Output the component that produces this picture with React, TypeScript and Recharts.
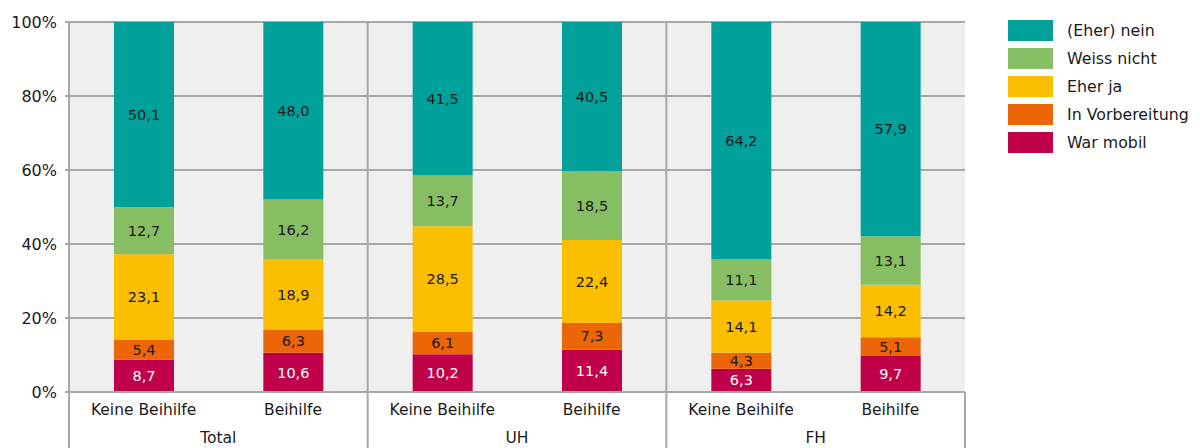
import React from 'react';
import { BarChart, Bar, XAxis, YAxis, CartesianGrid, LabelList, ReferenceLine } from 'recharts';

const groups = ['Total', 'UH', 'FH'];
const categories = ['Keine Beihilfe', 'Beihilfe', 'Keine Beihilfe', 'Beihilfe', 'Keine Beihilfe', 'Beihilfe'];
const categoryIds = ['total-keine', 'total-beihilfe', 'uh-keine', 'uh-beihilfe', 'fh-keine', 'fh-beihilfe'];
const warMobil = [8.7, 10.6, 10.2, 11.4, 6.3, 9.7];
const inVorbereitung = [5.4, 6.3, 6.1, 7.3, 4.3, 5.1];
const eherJa = [23.1, 18.9, 28.5, 22.4, 14.1, 14.2];
const weissNicht = [12.7, 16.2, 13.7, 18.5, 11.1, 13.1];
const eherNein = [50.1, 48.0, 41.5, 40.5, 64.2, 57.9];
const yTicks = [0, 20, 40, 60, 80, 100];

const series = [
  { key: 'warMobil', name: 'War mobil', color: '#C1004A', labelColor: '#ffffff' },
  { key: 'inVorbereitung', name: 'In Vorbereitung', color: '#EC6608', labelColor: '#1a1a1a' },
  { key: 'eherJa', name: 'Eher ja', color: '#FBBE00', labelColor: '#1a1a1a' },
  { key: 'weissNicht', name: 'Weiss nicht', color: '#87BE63', labelColor: '#1a1a1a' },
  { key: 'eherNein', name: '(Eher) nein', color: '#00A19B', labelColor: '#1a1a1a' },
];

const data = categoryIds.map((id, i) => ({
  id,
  warMobil: warMobil[i],
  inVorbereitung: inVorbereitung[i],
  eherJa: eherJa[i],
  weissNicht: weissNicht[i],
  eherNein: eherNein[i],
}));

const FONT = '"DejaVu Sans", "Open Sans", sans-serif';
const TEXT = '#1a1a1a';
const GRID = '#a8a8a8';

const fmt = (v: any) => Number(v).toFixed(1).replace('.', ',');

// category label + group label + group separators below the plot
const CategoryTick = ({ x, y, payload, index }: any) => {
  const half = payload.offset || 0;
  const last = index === categories.length - 1;
  return (
    <g>
      <text x={x} y={y} dy={23} textAnchor="middle" fill={TEXT} fontSize={15.5} fontFamily={FONT}>
        {categories[index]}
      </text>
      {index % 2 === 0 && (
        <line x1={x - half} x2={x - half} y1={y} y2={y + 56} stroke={GRID} strokeWidth={2} />
      )}
      {last && <line x1={x + half} x2={x + half} y1={y} y2={y + 56} stroke={GRID} strokeWidth={2} />}
      {index % 2 === 1 && (
        <text x={x - half} y={y} dy={51} textAnchor="middle" fill={TEXT} fontSize={15.5} fontFamily={FONT}>
          {groups[Math.floor(index / 2)]}
        </text>
      )}
    </g>
  );
};

const LegendBox = () => (
  <div style={{ position: 'absolute', left: 1008, top: 20, fontFamily: FONT, fontSize: 15.8, color: TEXT }}>
    {[...series].reverse().map((s) => (
      <div key={s.key} style={{ display: 'flex', alignItems: 'center', height: 28 }}>
        <div style={{ width: 45, height: 21, background: s.color, marginRight: 14, marginTop: -7 }} />
        <span style={{ marginTop: -7 }}>{s.name}</span>
      </div>
    ))}
  </div>
);

export default function App() {
  return (
    <div style={{ position: 'absolute', left: 0, top: 0, width: 1200, height: 448, background: '#fff' }}>
      <BarChart
        width={1200}
        height={448}
        data={data}
        margin={{ top: 22, right: 235, left: 0, bottom: 0 }}
        barSize={60}
      >
        <CartesianGrid vertical={false} stroke={GRID} strokeWidth={2} fill="#efefef" />
        <XAxis
          dataKey="id"
          height={56}
          tickLine={false}
          tickSize={0}
          tickMargin={0}
          axisLine={{ stroke: GRID, strokeWidth: 2 }}
          tick={<CategoryTick />}
          interval={0}
        />
        <YAxis
          width={69}
          domain={[0, 100]}
          allowDataOverflow
          ticks={yTicks}
          tickFormatter={(v) => `${v}%`}
          tick={{ fill: TEXT, fontSize: 16, fontFamily: FONT }}
          tickSize={4}
          tickMargin={8}
          tickLine={{ stroke: GRID, strokeWidth: 2 }}
          axisLine={{ stroke: GRID, strokeWidth: 2 }}
        />
        <ReferenceLine x={categoryIds[2]} position="start" stroke={GRID} strokeWidth={2} />
        <ReferenceLine x={categoryIds[4]} position="start" stroke={GRID} strokeWidth={2} />
        <ReferenceLine x={categoryIds[5]} position="end" stroke={GRID} strokeWidth={2} />
        {series.map((s) => (
          <Bar key={s.key} dataKey={s.key} name={s.name} stackId="a" fill={s.color} isAnimationActive={false}>
            <LabelList
              dataKey={s.key}
              position="center"
              formatter={fmt}
              fill={s.labelColor}
              fontSize={14.5}
              fontFamily={FONT}
            />
          </Bar>
        ))}
      </BarChart>
      <LegendBox />
    </div>
  );
}
